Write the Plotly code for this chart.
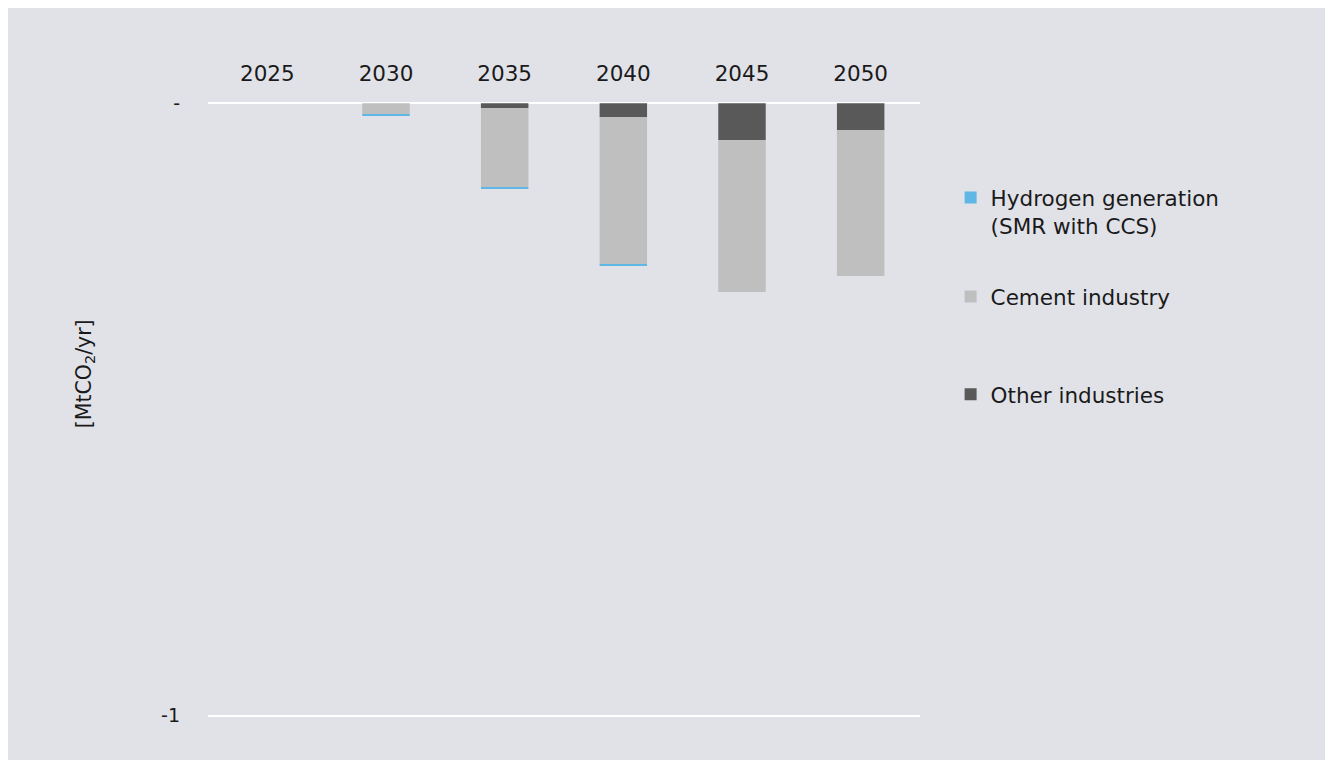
import plotly.graph_objects as go

years = ["2025", "2030", "2035", "2040", "2045", "2050"]
hydrogen = [0.0, -0.002, -0.003, -0.002, 0.0, 0.0]
cement = [0.0, -0.018, -0.129, -0.240, -0.248, -0.238]
other = [0.0, 0.0, -0.008, -0.023, -0.060, -0.044]

series_names = ["Other industries", "Cement industry", "Hydrogen generation<br>(SMR with CCS)"]
series_values = [other, cement, hydrogen]
series_colors = ["#595959", "#bfbfbf", "#5fb7e5"]
series_legends = ["legend3", "legend2", "legend"]

y_tickvals = [0, -1]
y_ticktext = ["-", "-1"]

FONT = "DejaVu Sans"
TXT = "#1a1a1a"
BG = "#e1e2e8"

fig = go.Figure()
for name, vals, col, lg in zip(series_names, series_values, series_colors, series_legends):
    fig.add_trace(go.Bar(
        x=years, y=vals, name=name, marker=dict(color=col, line=dict(width=0)),
        legend=lg,
    ))

leg_common = dict(x=1.043, xanchor="left", yanchor="top", valign="top",
                  font=dict(family=FONT, size=21.5, color=TXT),
                  bgcolor="rgba(0,0,0,0)")

fig.update_layout(
    width=1333, height=760,
    barmode="relative",
    bargap=0.6,
    paper_bgcolor=BG,
    plot_bgcolor=BG,
    margin=dict(l=200, r=421, t=94, b=51),
    font=dict(family=FONT, size=21, color=TXT),
    showlegend=True,
    legend=dict(y=0.878, **leg_common),
    legend2=dict(y=0.717, **leg_common),
    legend3=dict(y=0.558, **leg_common),
    annotations=[dict(text="[MtCO<sub>2</sub>/yr]", textangle=-90, showarrow=False,
                      xref="paper", yref="paper", x=-0.1728, y=0.559,
                      xanchor="center", yanchor="middle",
                      font=dict(family=FONT, size=20.5, color=TXT))],
)
fig.update_xaxes(side="top", showgrid=False, zeroline=False, showline=False,
                 ticks="", ticklabelstandoff=16,
                 tickfont=dict(family=FONT, size=21.5, color=TXT))
fig.update_yaxes(range=[-1.002, 0.002], tickvals=y_tickvals, ticktext=y_ticktext,
                 showgrid=True, gridcolor="white", gridwidth=2, zeroline=False,
                 showline=False, ticks="", ticklabelstandoff=27,
                 tickfont=dict(family=FONT, size=19, color=TXT))

fig.write_html("out.html")
